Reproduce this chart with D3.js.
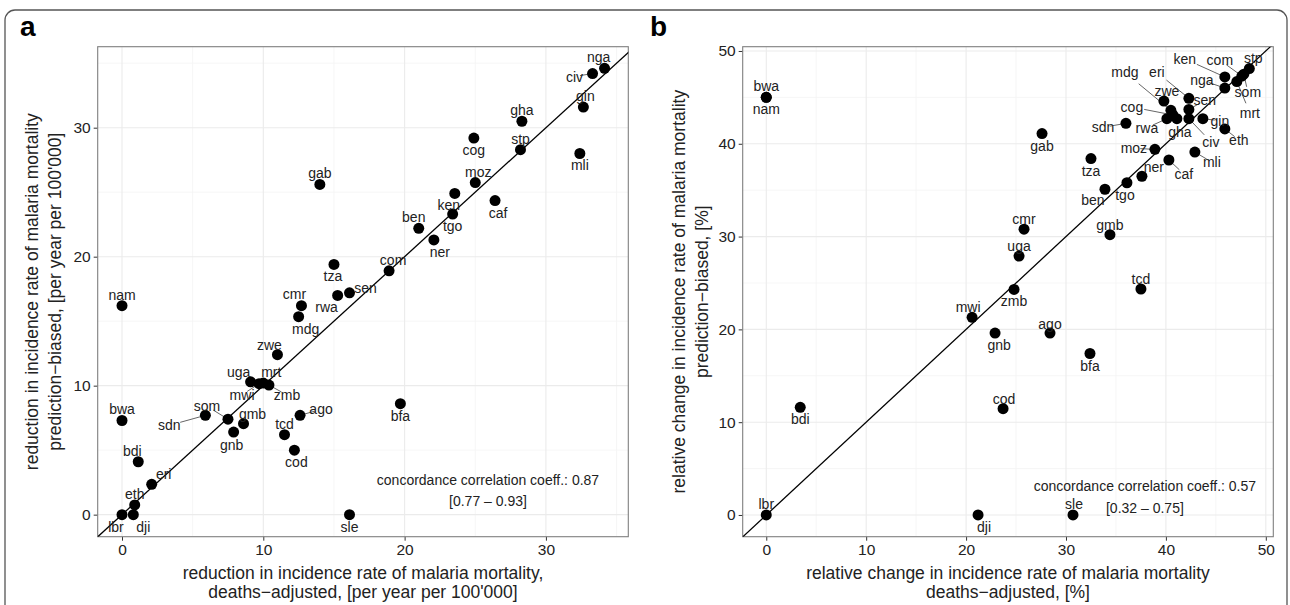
<!DOCTYPE html>
<html>
<head>
<meta charset="utf-8">
<script src="https://cdn.jsdelivr.net/npm/d3@7"></script>
<style>
  body { margin: 0; background: #fff; }
  svg { font-family: "Liberation Sans", Arial, sans-serif; }
</style>
</head>
<body>
<svg id="chart" width="1290" height="605"></svg>
<script>
// panel a: reduction in incidence rate [per year per 100'000]
const codesA = ["nga","civ","gin","gha","stp","mli","cog","moz","ken","tgo","caf","ben","ner","com","tza","sen","rwa","cmr","mdg","gab","nam","zwe","uga","mwi","mrt","zmb","bfa","ago","tcd","cod","sdn","som","gmb","gnb","bwa","bdi","eri","eth","dji","lbr","sle"];
const xA = [34.15,33.3,32.65,28.3,28.2,32.4,24.9,25.0,23.55,23.4,26.4,21.0,22.07,18.9,15.0,16.1,15.26,12.7,12.5,14.0,0,11.0,9.1,9.7,10.0,10.4,19.7,12.6,11.5,12.2,5.9,7.5,8.6,7.9,0,1.15,2.1,0.9,0.8,0,16.1];
const yA = [34.6,34.2,31.6,30.5,28.3,28.0,29.2,25.75,24.9,23.3,24.35,22.2,21.3,18.9,19.4,17.2,17.0,16.2,15.35,25.6,16.2,12.4,10.3,10.15,10.2,10.05,8.6,7.7,6.2,5.0,7.7,7.4,7.05,6.4,7.3,4.1,2.35,0.75,0,0,0];

// panel b: relative change [%]
const codesB = ["stp","com","som","mrt","ken","nga","eri","sen","civ","gin","eth","zwe","mdg","cog","rwa","gha","sdn","gab","moz","mli","caf","tza","ner","tgo","ben","gmb","cmr","uga","zmb","tcd","mwi","gnb","ago","bfa","cod","bdi","bwa","nam","lbr","dji","sle"];
const xB = [48.35,47.6,47.8,47.1,45.9,45.9,42.3,42.3,42.3,43.7,45.9,39.8,40.5,40.7,40.1,41.1,36.0,27.6,38.9,42.9,40.3,32.5,37.6,36.1,33.9,34.4,25.8,25.3,24.8,37.5,20.6,22.9,28.4,32.4,23.7,3.4,0,0,0,21.2,30.7];
const yB = [48.1,47.3,47.5,46.7,47.2,46.0,44.9,43.7,42.7,42.7,41.6,44.6,43.6,43.1,42.7,42.7,42.2,41.1,39.4,39.1,38.25,38.4,36.5,35.8,35.1,30.2,30.8,27.9,24.3,24.35,21.3,19.6,19.6,17.4,11.45,11.6,45.0,45.0,0,0,0];

const ticksA = [0, 10, 20, 30];
const ticksB = [0, 10, 20, 30, 40, 50];

// label offsets (px) from point: [dx, dy]
const offA = {nga:[-6,-11],civ:[-18,3],gin:[2,-11],gha:[0,-11],stp:[0,-11],mli:[0,12],cog:[0,12],moz:[3,-11],ken:[-6,12],tgo:[0,12],caf:[3,12],ben:[-5,-11],ner:[6,12],com:[4,-11],tza:[-1,12],sen:[16,-5],rwa:[-11,12],cmr:[-7,-12],mdg:[7,12],gab:[0,-11],nam:[0,-11],zwe:[-8,-10],uga:[-12,-10],mwi:[-17,11],mrt:[8,-11],zmb:[18,10],bfa:[0,12],ago:[21,-6],tcd:[0,-11],cod:[2,12],sdn:[-36,10],som:[-21,-13],gmb:[9,-10],gnb:[-2,13],bwa:[0,-11],bdi:[-6,-11],eri:[12,-10],eth:[0,-11],dji:[10,12],lbr:[-6,12],sle:[0,12]};
const offB = {stp:[4,-11],com:[-22,-16],som:[4,18],mrt:[13,31],ken:[-40,-18],nga:[-23,-8],eri:[-32,-26],sen:[16,-9],civ:[22,23],gin:[17,2],eth:[14,11],zwe:[3,-10],mdg:[-46,-38],cog:[-41,-8],rwa:[-20,9],gha:[3,13],sdn:[-23,4],gab:[0,12],moz:[-21,-1],mli:[17,10],caf:[15,14],tza:[0,12],ner:[12,-9],tgo:[-2,12],ben:[-12,11],gmb:[0,-10],cmr:[0,-10],uga:[0,-10],zmb:[0,12],tcd:[0,-10],mwi:[-4,-10],gnb:[4,12],ago:[0,-9],bfa:[0,12],cod:[1,-10],bdi:[0,12],bwa:[0,-11],nam:[0,12],lbr:[0,-11],dji:[6,12],sle:[1,-11]};

const svg = d3.select("#chart");

// outer rounded frame
svg.append("rect")
  .attr("x", 5).attr("y", 10).attr("width", 1282).attr("height", 640)
  .attr("rx", 10).attr("fill", "none").attr("stroke", "#555").attr("stroke-width", 1.3);

function panel(opt) {
  const x = d3.scaleLinear().domain(opt.xDom).range([opt.left, opt.right]);
  const y = d3.scaleLinear().domain(opt.yDom).range([opt.bottom, opt.top]);
  const g = svg.append("g");
  const clipId = "clip" + opt.letter;
  g.append("clipPath").attr("id", clipId).append("rect")
    .attr("x", opt.left).attr("y", opt.top)
    .attr("width", opt.right - opt.left).attr("height", opt.bottom - opt.top);

  // minor grid
  const step = opt.ticks[1] - opt.ticks[0];
  const minor = d3.range(opt.ticks[0] - step / 2, opt.ticks[opt.ticks.length - 1] + step, step);
  g.selectAll(".mx").data(minor.filter(v => v > opt.xDom[0] && v < opt.xDom[1])).enter().append("line")
    .attr("x1", d => x(d)).attr("x2", d => x(d)).attr("y1", opt.top).attr("y2", opt.bottom)
    .attr("stroke", "#f4f4f4").attr("stroke-width", 0.8);
  g.selectAll(".my").data(minor.filter(v => v > opt.yDom[0] && v < opt.yDom[1])).enter().append("line")
    .attr("y1", d => y(d)).attr("y2", d => y(d)).attr("x1", opt.left).attr("x2", opt.right)
    .attr("stroke", "#f4f4f4").attr("stroke-width", 0.8);
  // major grid
  g.selectAll(".gx").data(opt.ticks).enter().append("line")
    .attr("x1", d => x(d)).attr("x2", d => x(d)).attr("y1", opt.top).attr("y2", opt.bottom)
    .attr("stroke", "#ebebeb").attr("stroke-width", 1.1);
  g.selectAll(".gy").data(opt.ticks).enter().append("line")
    .attr("y1", d => y(d)).attr("y2", d => y(d)).attr("x1", opt.left).attr("x2", opt.right)
    .attr("stroke", "#ebebeb").attr("stroke-width", 1.1);

  // axes
  const ax = g.append("g").attr("transform", `translate(0,${opt.bottom})`)
    .call(d3.axisBottom(x).tickValues(opt.ticks).tickSize(4).tickPadding(3));
  const ay = g.append("g").attr("transform", `translate(${opt.left},0)`)
    .call(d3.axisLeft(y).tickValues(opt.ticks).tickSize(4).tickPadding(3));
  [ax, ay].forEach(a => {
    a.select(".domain").remove();
    a.selectAll("line").attr("stroke", "#333");
    a.selectAll("text").attr("font-size", 15.5).attr("fill", "#222").attr("font-family", "Liberation Sans, Arial, sans-serif");
  });

  // panel border
  g.append("rect").attr("x", opt.left).attr("y", opt.top)
    .attr("width", opt.right - opt.left).attr("height", opt.bottom - opt.top)
    .attr("fill", "none").attr("stroke", "#7f7f7f").attr("stroke-width", 1.1);

  // identity line
  const lo = Math.max(opt.xDom[0], opt.yDom[0]), hi = Math.min(opt.xDom[1], opt.yDom[1]);
  g.append("line").attr("clip-path", `url(#${clipId})`)
    .attr("x1", x(lo - 5)).attr("y1", y(lo - 5)).attr("x2", x(hi + 5)).attr("y2", y(hi + 5))
    .attr("stroke", "#000").attr("stroke-width", 1.3);

  const pts = opt.codes.map((c, i) => ({ c, px: x(opt.xs[i]), py: y(opt.ys[i]), o: opt.off[c] || [0, -11] }));

  // leader lines
  g.selectAll(".lead").data(pts.filter(p => Math.hypot(p.o[0], p.o[1]) > 17)).enter().append("line")
    .attr("x1", p => p.px).attr("y1", p => p.py)
    .attr("x2", p => p.px + p.o[0] * 0.7).attr("y2", p => p.py + p.o[1] * 0.7)
    .attr("stroke", "#666").attr("stroke-width", 1);

  g.selectAll(".pt").data(pts).enter().append("circle")
    .attr("cx", p => p.px).attr("cy", p => p.py).attr("r", 5.5).attr("fill", "#000");

  g.selectAll(".lab").data(pts).enter().append("text")
    .attr("x", p => p.px + p.o[0]).attr("y", p => p.py + p.o[1])
    .attr("text-anchor", "middle").attr("dominant-baseline", "central")
    .attr("font-size", 14).attr("fill", "#222").text(p => p.c);

  // annotation (positioned in data units)
  [opt.ann1, opt.ann2].forEach((t, i) => g.append("text")
    .attr("x", x(opt.annPos[0])).attr("y", y(opt.annPos[1 + i]))
    .attr("text-anchor", "middle").attr("dominant-baseline", "central")
    .attr("font-size", 14).attr("fill", "#222").text(t));

  // axis titles
  const mx = (opt.left + opt.right) / 2, my = (opt.top + opt.bottom) / 2;
  opt.xTitle.forEach((t, i) => g.append("text").attr("x", mx).attr("y", 579 + i * 19)
    .attr("text-anchor", "middle").attr("font-size", 17.5).attr("fill", "#222").text(t));
  opt.yTitle.forEach((t, i) => g.append("text")
    .attr("transform", `translate(${opt.yTitleX + i * 23},${my}) rotate(-90)`)
    .attr("text-anchor", "middle").attr("font-size", 17.5).attr("fill", "#222").text(t));

  svg.append("text").attr("x", opt.letterX).attr("y", 36).attr("font-size", 28)
    .attr("font-weight", "bold").attr("fill", "#000").text(opt.letter);
}

panel({
  letter: "a", letterX: 20,
  left: 97.7, right: 628.3, top: 46.7, bottom: 536.7,
  xDom: [-1.72, 35.83], yDom: [-1.71, 36.28], ticks: ticksA,
  codes: codesA, xs: xA, ys: yA, off: offA,
  annPos: [25.9, 2.7, 1.05],
  ann1: "concordance correlation coeff.: 0.87", ann2: "[0.77 \u2013 0.93]",
  xTitle: ["reduction in incidence rate of malaria mortality,", "deaths\u2212adjusted, [per year per 100'000]"],
  yTitle: ["reduction in incidence rate of malaria mortality", "prediction\u2212biased, [per year per 100'000]"],
  yTitleX: 38
});

panel({
  letter: "b", letterX: 650,
  left: 742.7, right: 1273.3, top: 46.7, bottom: 536.7,
  xDom: [-2.36, 50.75], yDom: [-2.34, 50.46], ticks: ticksB,
  codes: codesB, xs: xB, ys: yB, off: offB,
  annPos: [37.9, 3.1, 0.8],
  ann1: "concordance correlation coeff.: 0.57", ann2: "[0.32 \u2013 0.75]",
  xTitle: ["relative change in incidence rate of malaria mortality", "deaths\u2212adjusted, [%]"],
  yTitle: ["relative change in incidence rate of malaria mortality", "prediction\u2212biased, [%]"],
  yTitleX: 685
});
</script>
</body>
</html>
